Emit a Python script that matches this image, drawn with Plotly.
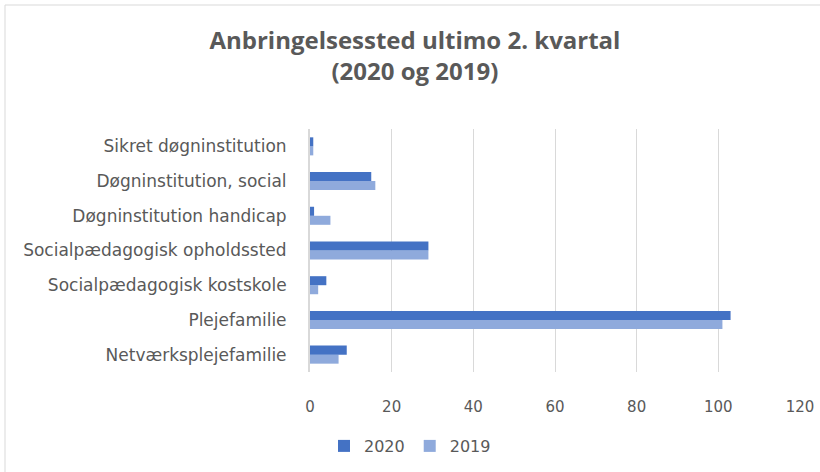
import plotly.graph_objects as go

categories = [
    "Netværksplejefamilie",
    "Plejefamilie",
    "Socialpædagogisk kostskole",
    "Socialpædagogisk opholdssted",
    "Døgninstitution handicap",
    "Døgninstitution, social",
    "Sikret døgninstitution",
]
values_2020 = [9, 103, 4, 29, 1, 15, 0.8]
values_2019 = [7, 101, 2, 29, 5, 16, 0.8]
x_ticks = [0, 20, 40, 60, 80, 100, 120]

TITLE_FONT = "Open Sans"
FONT = "DejaVu Sans"
GRAY = "#595959"

fig = go.Figure()
fig.add_trace(go.Bar(
    y=categories, x=values_2019, orientation="h", name="2019",
    marker=dict(color="#8FAADC", line=dict(width=0)), legendrank=2,
))
fig.add_trace(go.Bar(
    y=categories, x=values_2020, orientation="h", name="2020",
    marker=dict(color="#4472C4", line=dict(width=0)), legendrank=1,
))

L, R, T, B = 310, 800, 129, 372
W, H = 820, 472


def px(x):
    return (x - L) / (R - L)


def py(y):
    return (B - y) / (B - T)


fig.update_layout(
    width=W, height=H,
    paper_bgcolor="white", plot_bgcolor="white",
    margin=dict(l=L, r=W - R, t=T, b=H - B, autoexpand=False),
    barmode="group", bargap=0.48, bargroupgap=0,
    title=dict(
        text="<b>Anbringelsessted ultimo 2. kvartal<br>(2020 og 2019)</b>",
        x=0.506, xanchor="center", xref="container",
        y=1 - 49 / H, yanchor="middle", yref="container",
        font=dict(family=TITLE_FONT, size=24, color=GRAY),
    ),
    font=dict(family=FONT, color=GRAY, size=15),
    xaxis=dict(
        range=[0, 120], tickvals=x_ticks, showgrid=True,
        gridcolor="#D9D9D9", gridwidth=1, zeroline=False,
        showline=False, ticks="", tickfont=dict(family=FONT, size=15, color=GRAY),
        ticklabelstandoff=24, automargin=False,
    ),
    yaxis=dict(
        showgrid=False, showline=True, linecolor="#D9D9D9", linewidth=2,
        ticks="", tickfont=dict(family=FONT, size=17, color=GRAY),
        ticklabelstandoff=18, automargin=False,
    ),
    legend=dict(
        orientation="h", x=px(410), xanchor="center",
        y=py(446), yanchor="middle",
        font=dict(family=FONT, size=16, color=GRAY), itemwidth=30,
        traceorder="normal",
    ),
    shapes=[
        dict(type="line", xref="paper", yref="paper",
             x0=px(5), x1=px(5), y0=py(472), y1=py(5),
             line=dict(color="#D9D9D9", width=1), layer="below"),
        dict(type="line", xref="paper", yref="paper",
             x0=px(5), x1=px(820), y0=py(5), y1=py(5),
             line=dict(color="#D9D9D9", width=1), layer="below"),
    ],
)

fig.write_html(
    "out.html",
    config={"displayModeBar": False},
    post_script="document.body.style.margin='0';document.body.style.padding='0';",
)
